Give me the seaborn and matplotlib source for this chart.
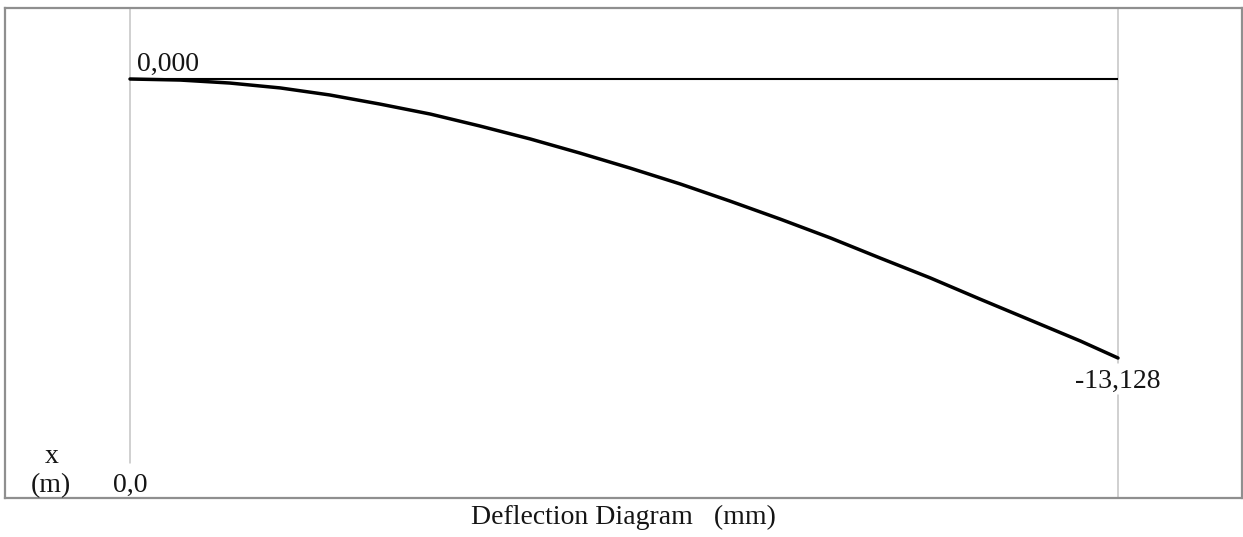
import matplotlib
matplotlib.use("Agg")
import matplotlib.pyplot as plt
import seaborn as sns
import pandas as pd

# ---- data ----
x_pos = [0.000, 0.051, 0.101, 0.152, 0.202, 0.253, 0.304, 0.354, 0.405, 0.455,
         0.506, 0.557, 0.607, 0.658, 0.709, 0.759, 0.810, 0.860, 0.911, 0.962, 1.000]
deflection = [0.000, -0.05, -0.19, -0.42, -0.75, -1.18, -1.65, -2.21, -2.82, -3.48,
              -4.19, -4.94, -5.74, -6.59, -7.48, -8.42, -9.36, -10.35, -11.34, -12.33, -13.128]
start_label = "0,000"
end_label = "-13,128"
x_start_label = "0,0"
axis_name = "x"
axis_unit = "(m)"
title = "Deflection Diagram   (mm)"

df = pd.DataFrame({"x": x_pos, "d": deflection})

sns.set_style("white")
plt.rcParams["font.family"] = ["Liberation Serif", "DejaVu Serif"]

W, H = 1243, 537
fig = plt.figure(figsize=(W / 100, H / 100), dpi=100)
# frame: px x 5..1242, y 8..498
ax = fig.add_axes([5 / W, (H - 498) / H, 1237 / W, 490 / H])

mm_per_px = 13.128 / 279.0
px_per_x = 988.0
ax.set_xlim(-125 / px_per_x, 1112 / px_per_x)
ax.set_ylim(-(498 - 79) * mm_per_px, (79 - 8) * mm_per_px)

for s in ax.spines.values():
    s.set_color("#8f8f8f")
    s.set_linewidth(1.6)
ax.set_xticks([])
ax.set_yticks([])

grey = "#c4c4c4"
ax.axvline(x_pos[0], ymin=(498 - 463) / 490, ymax=1, color=grey, lw=1.1, zorder=1)
ax.axvline(x_pos[-1], ymin=0, ymax=(498 - 395) / 490, color=grey, lw=1.1, zorder=1)
ax.axvline(x_pos[-1], ymin=(498 - 363) / 490, ymax=1, color=grey, lw=1.1, zorder=1)

ax.hlines(0, x_pos[0], x_pos[-1], color="black", lw=1.5, zorder=2)
sns.lineplot(data=df, x="x", y="d", ax=ax, color="black", lw=2.5, zorder=3, sort=False)
ax.set_xlabel("")
ax.set_ylabel("")

tc = "#151515"
fs = 20
ax.text(x_pos[0] + 7 / px_per_x, (79 - 71) * mm_per_px, start_label,
        ha="left", va="baseline", fontsize=fs, color=tc)
ax.text(x_pos[-1], -(388 - 79) * mm_per_px, end_label,
        ha="center", va="baseline", fontsize=fs, color=tc)
ax.text(x_pos[0], -(492 - 79) * mm_per_px, x_start_label,
        ha="center", va="baseline", fontsize=fs, color=tc)
ax.text(-78 / px_per_x, -(463 - 79) * mm_per_px, axis_name,
        ha="center", va="baseline", fontsize=fs, color=tc)
ax.text(-79 / px_per_x, -(492 - 79) * mm_per_px, axis_unit,
        ha="center", va="baseline", fontsize=fs, color=tc)

fig.text(623 / W, 1 - 517 / H, title, ha="center", va="center", fontsize=fs, color=tc)

fig.savefig("out.png", dpi=100, facecolor="white")
